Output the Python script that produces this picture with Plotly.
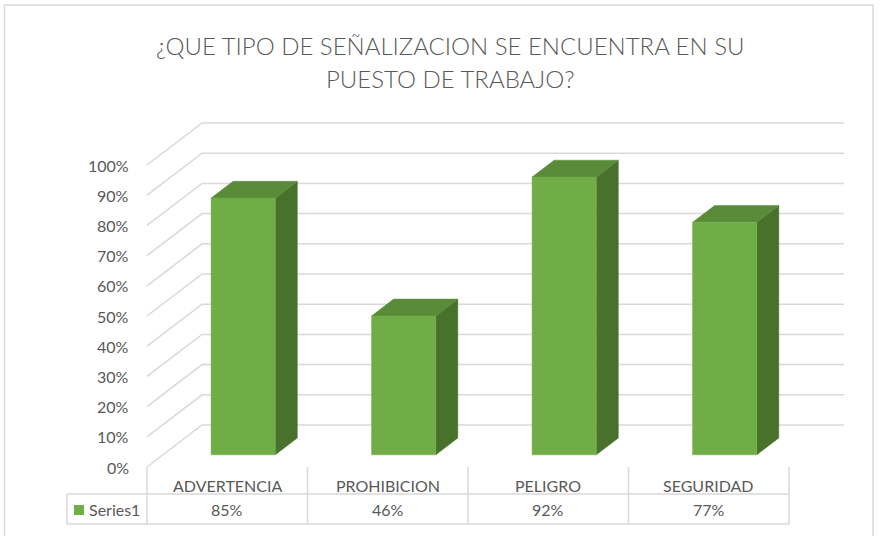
import plotly.graph_objects as go

categories = ["ADVERTENCIA", "PROHIBICION", "PELIGRO", "SEGURIDAD"]
values = [0.85, 0.46, 0.92, 0.77]
value_labels = ["85%", "46%", "92%", "77%"]
series_name = "Series1"
tick_vals = [i / 10 for i in range(11)]
tick_labels = [f"{i * 10}%" for i in range(11)]
title_lines = ["¿QUE TIPO DE SEÑALIZACION SE ENCUENTRA EN SU", "PUESTO DE TRABAJO?"]

W, H = 880, 536
# pixel geometry of the front plane
X0, CAT_W = 147.0, 160.5      # front-plane left edge and category width (px)
Y0, FULL_H = 467.0, 302.0     # front-plane 0% baseline and 100% height (px)
DEPTH_DX, DEPTH_DY = 55.0, 42.0

DX = DEPTH_DX / CAT_W
DY = DEPTH_DY / FULL_H
D0, D1 = 0.29, 0.69           # bar depth (fraction of full depth)
BL, BR = 0.30, 0.70           # bar span within category


def ux(px):
    return (px - X0) / CAT_W


def vy(py):
    return (Y0 - py) / FULL_H


def proj(u, v, d):
    return u + d * DX, v + d * DY


FONT = "Lato, Liberation Sans, sans-serif"
TXT = "#595959"
GRID = "#d9d9d9"
FRONT = "#70ad47"
TOP = "#5a8b39"
SIDE = "#48722b"

fig = go.Figure()

# gridlines (side wall + back wall)
gx, gy = [], []
n = len(categories)
for t in tick_vals:
    a = proj(0, t, 0)
    b = proj(0, t, 1)
    c = proj(n, t, 1)
    gx += [a[0], b[0], c[0], None]
    gy += [a[1], b[1], c[1], None]
fig.add_trace(go.Scatter(x=gx, y=gy, mode="lines", line=dict(color=GRID, width=1.5),
                         hoverinfo="skip", showlegend=False))


def poly(pts, color):
    xs = [p[0] for p in pts] + [pts[0][0]]
    ys = [p[1] for p in pts] + [pts[0][1]]
    fig.add_trace(go.Scatter(x=xs, y=ys, mode="lines", fill="toself", fillcolor=color,
                             line=dict(color=color, width=0.5), hoverinfo="skip",
                             showlegend=False))


for i, val in enumerate(values):
    l, r = i + BL, i + BR
    side = [proj(r, 0, D0), proj(r, 0, D1), proj(r, val, D1), proj(r, val, D0)]
    top = [proj(l, val, D0), proj(r, val, D0), proj(r, val, D1), proj(l, val, D1)]
    front = [proj(l, 0, D0), proj(r, 0, D0), proj(r, val, D0), proj(l, val, D0)]
    poly(side, SIDE)
    poly(top, TOP)
    poly(front, FRONT)

annotations = []
LAB = 16
# y tick labels
for t, lab in zip(tick_vals, tick_labels):
    annotations.append(dict(x=0, y=t, xref="x", yref="y", text=lab, showarrow=False,
                            xanchor="right", yanchor="middle", xshift=-16,
                            font=dict(family=FONT, size=LAB, color=TXT)))

# data table
shapes = []
t_top, t_mid, t_bot = vy(467), vy(494), vy(524)
t_left = ux(67)
for k in range(n + 1):
    shapes.append(dict(type="line", xref="x", yref="y", x0=k, x1=k, y0=t_top, y1=t_bot,
                       line=dict(color=GRID, width=1.5)))
shapes.append(dict(type="line", xref="x", yref="y", x0=t_left, x1=t_left, y0=t_mid, y1=t_bot,
                   line=dict(color=GRID, width=1.5)))
for yy in (t_mid, t_bot):
    shapes.append(dict(type="line", xref="x", yref="y", x0=t_left, x1=n, y0=yy, y1=yy,
                       line=dict(color=GRID, width=1.5)))
# legend key
shapes.append(dict(type="rect", xref="x", yref="y", x0=ux(74), x1=ux(84), y0=vy(515), y1=vy(505),
                   fillcolor=FRONT, line=dict(width=0)))
annotations.append(dict(x=ux(87), y=vy(509.5), xref="x", yref="y", text=series_name,
                        showarrow=False, xanchor="left", yanchor="middle",
                        font=dict(family=FONT, size=LAB, color=TXT)))
for i, (cat, vl) in enumerate(zip(categories, value_labels)):
    annotations.append(dict(x=i + 0.5, y=vy(485.5), xref="x", yref="y", text=cat,
                            showarrow=False, xanchor="center", yanchor="middle",
                            font=dict(family=FONT, size=LAB, color=TXT)))
    annotations.append(dict(x=i + 0.5, y=vy(509.5), xref="x", yref="y", text=vl,
                            showarrow=False, xanchor="center", yanchor="middle",
                            font=dict(family=FONT, size=LAB, color=TXT)))

# title
for line, py in zip(title_lines, (45, 78)):
    annotations.append(dict(x=450 / W, y=1 - py / H, xref="paper", yref="paper", text=line,
                            showarrow=False, xanchor="center", yanchor="middle",
                            font=dict(family=FONT, size=24, color=TXT, weight=300)))

# chart border
for (x0, y0, x1, y1) in [(4.5, 5, 873, 5), (4.5, 5, 4.5, H), (873, 5, 873, H)]:
    shapes.append(dict(type="line", xref="paper", yref="paper", x0=x0 / W, x1=x1 / W,
                       y0=1 - y0 / H, y1=1 - y1 / H, line=dict(color=GRID, width=1.5)))

fig.update_layout(
    width=W, height=H,
    margin=dict(l=0, r=0, t=0, b=0),
    paper_bgcolor="white", plot_bgcolor="white",
    xaxis=dict(range=[ux(0), ux(W)], visible=False, fixedrange=True),
    yaxis=dict(range=[vy(H), vy(0)], visible=False, fixedrange=True),
    annotations=annotations, shapes=shapes, showlegend=False,
)

fig.write_html("out.html", config={"displayModeBar": False},
               post_script="document.body.style.margin='0';document.body.style.overflow='hidden';")
